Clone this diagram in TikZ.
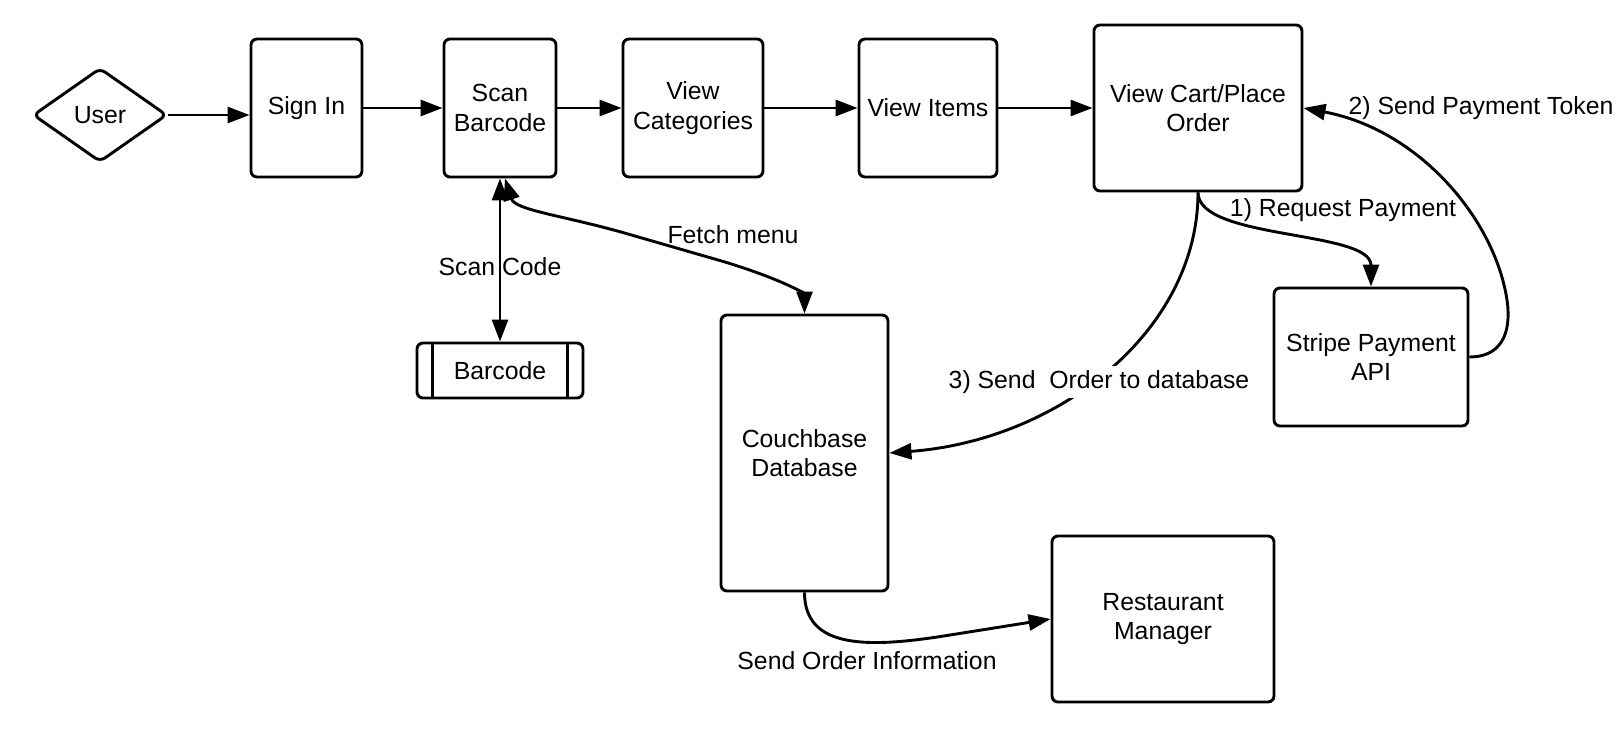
\documentclass[tikz,border=0pt]{standalone}
\usepackage{fontspec}
\setmainfont{Liberation Sans}
\usetikzlibrary{shapes.geometric,arrows.meta}
\begin{document}
\begin{tikzpicture}[x=0.5pt,y=-0.5pt,
  every node/.style={font=\fontsize{12.4}{14.6}\selectfont, align=center},
  box/.style={draw, line width=1.45pt, rounded corners=3pt, inner sep=2pt},
  lbl/.style={inner sep=1.5pt},
  conn/.style={line width=1.45pt, -{Triangle[length=11pt,width=8pt]}},
  conn2/.style={line width=1.45pt, {Triangle[length=11pt,width=8pt]}-{Triangle[length=11pt,width=8pt]}},
]
\fill[white] (0,0) rectangle (1624,744);
\useasboundingbox (0,0) rectangle (1624,744);

\node[box, diamond, aspect=1.4, minimum width=67pt, minimum height=47pt, inner sep=0pt] (user) at (100,115) {User};
\node[box, minimum width=55.5pt, minimum height=69pt] (signin) at (306.5,108) {Sign In};
\node[box, minimum width=56pt, minimum height=69pt] (scan) at (500,108) {Scan\\Barcode};
\node[box, minimum width=70pt, minimum height=69pt] (cats) at (693,108) {View\\Categories};
\node[box, minimum width=69pt, minimum height=69pt] (items) at (928,108) {View Items};
\node[box, minimum width=104pt, minimum height=83pt] (cart) at (1198,108) {View Cart/Place\\Order};
\node[box, minimum width=97pt, minimum height=69pt] (stripe) at (1371,357) {Stripe Payment\\API};
\node[box, minimum width=83pt, minimum height=27.5pt] (barcode) at (500,370.5) {Barcode};
\draw[line width=1.45pt] ([xshift=8.5pt]barcode.north west) -- ([xshift=8.5pt]barcode.south west);
\draw[line width=1.45pt] ([xshift=-8.5pt]barcode.north east) -- ([xshift=-8.5pt]barcode.south east);
\node[box, minimum width=83.5pt, minimum height=138pt] (couch) at (804.5,453) {Couchbase\\Database};
\node[box, minimum width=111pt, minimum height=83pt] (rest) at (1163,619) {Restaurant\\Manager};

% main flow
\draw[conn] (user.east) -- (user.east -| signin.west);
\draw[conn] (signin.east) -- (scan.west);
\draw[conn] (scan.east) -- (cats.west);
\draw[conn] (cats.east) -- (items.west);
\draw[conn] (items.east) -- (cart.west);

% scan code
\draw[conn2] (scan.south) -- (barcode.north);
\node[lbl] (scanlbl) at (500,267) {Scan Code};

% fetch menu
\coordinate (fm0) at ([xshift=2.5pt]scan.south);
\draw[conn2] (fm0) .. controls (515,210) and (560,215) .. (621,232) -- (725,262) .. controls (790,282) and (804.5,295) .. (couch.north);
\node[lbl] (fmlbl) at (733,235) {Fetch menu};

% request payment
\draw[conn] (cart.south) .. controls (1198,240) and (1371,230) .. (stripe.north);
\node[lbl] (reqlbl) at (1343,210) {1) Request Payment};

% send payment token
\draw[conn] (stripe.east) .. controls (1500,357) and (1512,335) .. (1507,300) .. controls (1495,220) and (1420,130) .. (cart.east);
\node[lbl] (toklbl) at (1481,108) {2) Send Payment Token};

% send order to database
\draw[conn] (cart.south) .. controls (1198,330) and (1060,440) .. (couch.east);
\node[lbl, fill=white, inner sep=2pt] (ordlbl) at (1099,382) {3) Send~ Order to database};

% send order information
\draw[conn] (couch.south) .. controls (804.5,650) and (870,648) .. (950,635) -- (rest.west);
\node[lbl] (infolbl) at (867,661) {Send Order Information};
\end{tikzpicture}
\end{document}
